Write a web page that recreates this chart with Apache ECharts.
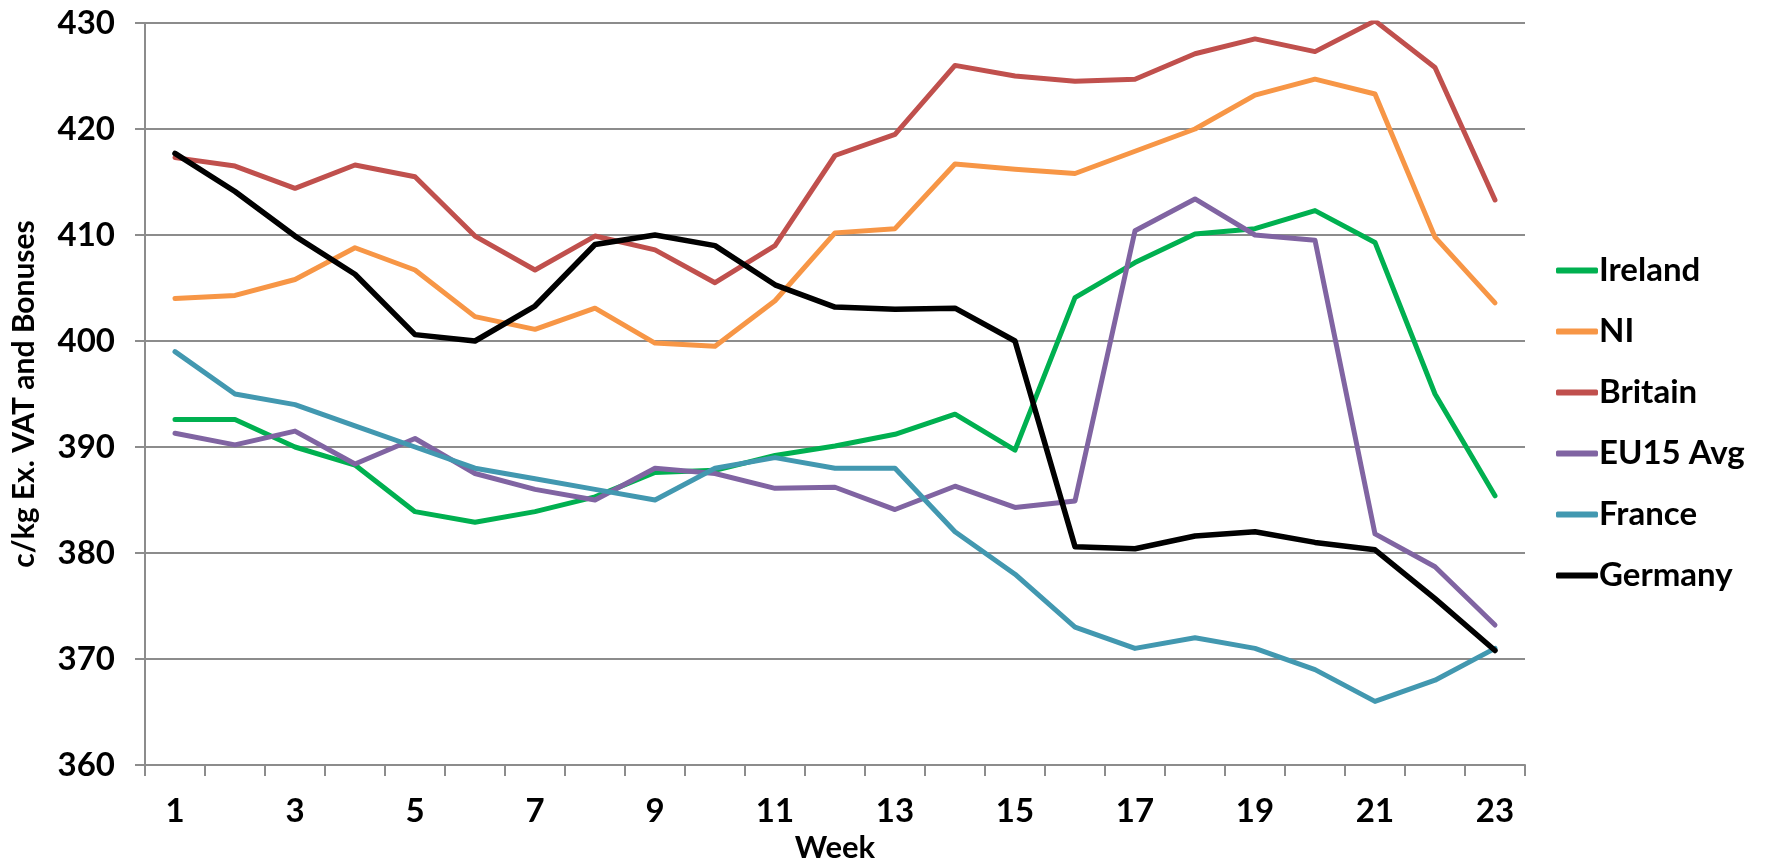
<!DOCTYPE html>
<html>
<head>
<meta charset="utf-8">
<script src="https://cdn.jsdelivr.net/npm/echarts@6/dist/echarts.min.js"></script>
<style>
  html, body { margin: 0; padding: 0; background: #fff; }
  #chart { width: 1775px; height: 858px; }
</style>
</head>
<body>
<div id="chart"></div>
<script>
// weeks on the x axis
var weeks = ['1', '2', '3', '4', '5', '6', '7', '8', '9', '10', '11', '12',
             '13', '14', '15', '16', '17', '18', '19', '20', '21', '22', '23'];

// c/kg values
var ireland = [392.6, 392.6, 390.0, 388.3, 383.9, 382.9, 383.9, 385.3, 387.6, 387.8, 389.2, 390.1,
               391.2, 393.1, 389.7, 404.1, 407.4, 410.1, 410.6, 412.3, 409.3, 395.0, 385.4];
var ni      = [404.0, 404.3, 405.8, 408.8, 406.7, 402.3, 401.1, 403.1, 399.8, 399.5, 403.8, 410.2,
               410.6, 416.7, 416.2, 415.8, 417.9, 420.0, 423.2, 424.7, 423.3, 409.8, 403.6];
var britain = [417.3, 416.5, 414.4, 416.6, 415.5, 409.9, 406.7, 409.9, 408.6, 405.5, 409.0, 417.5,
               419.5, 426.0, 425.0, 424.5, 424.7, 427.1, 428.5, 427.3, 430.2, 425.8, 413.3];
var eu15    = [391.3, 390.2, 391.5, 388.4, 390.8, 387.5, 386.0, 385.0, 388.0, 387.5, 386.1, 386.2,
               384.1, 386.3, 384.3, 384.9, 410.4, 413.4, 410.0, 409.5, 381.8, 378.7, 373.2];
var france  = [399.0, 395.0, 394.0, 392.0, 390.0, 388.0, 387.0, 386.0, 385.0, 388.0, 389.0, 388.0,
               388.0, 382.0, 378.0, 373.0, 371.0, 372.0, 371.0, 369.0, 366.0, 368.0, 371.0];
var germany = [417.7, 414.1, 409.9, 406.3, 400.6, 400.0, 403.3, 409.1, 410.0, 409.0, 405.3, 403.2,
               403.0, 403.1, 400.0, 380.6, 380.4, 381.6, 382.0, 381.0, 380.3, 375.7, 370.8];

var FONT = 'Lato, "Open Sans", sans-serif';

function line(name, data, color, width) {
    return {
        name: name,
        type: 'line',
        data: data,
        symbol: 'none',
        color: color,
        lineStyle: { width: width, color: color, cap: 'round', join: 'round' },
        emphasis: { disabled: true }
    };
}

var myChart = echarts.init(document.getElementById('chart'));
myChart.setOption({
    animation: false,
    backgroundColor: '#ffffff',
    textStyle: { fontFamily: FONT },
    grid: { left: 145, right: 250, top: 23, bottom: 93, containLabel: false, outerBoundsMode: 'none' },
    legend: {
        orient: 'vertical',
        left: 1551,
        top: 249,
        itemWidth: 42,
        itemHeight: 6,
        itemGap: 28,
        icon: 'roundRect',
        textStyle: { fontFamily: FONT, fontWeight: 'bold', fontSize: 33, lineHeight: 33, color: '#000', padding: [0, 0, 0, -4] },
        data: ['Ireland', 'NI', 'Britain', 'EU15 Avg', 'France', 'Germany']
    },
    xAxis: {
        type: 'category',
        data: weeks,
        boundaryGap: true,
        name: 'Week',
        nameLocation: 'middle',
        nameGap: 54,
        nameTextStyle: { fontFamily: FONT, fontWeight: 'bold', fontSize: 31, color: '#000' },
        axisLine: { lineStyle: { color: '#8c8c8c', width: 2 } },
        axisTick: { show: true, interval: 0, length: 11, lineStyle: { color: '#8c8c8c', width: 2 } },
        axisLabel: { interval: 1, margin: 30, fontFamily: FONT, fontWeight: 'bold', fontSize: 33, color: '#000' },
        splitLine: { show: false }
    },
    yAxis: {
        type: 'value',
        min: 360,
        max: 430,
        interval: 10,
        name: 'c/kg Ex. VAT and Bonuses',
        nameLocation: 'middle',
        nameGap: 106,
        nameTextStyle: { fontFamily: FONT, fontWeight: 'bold', fontSize: 30, color: '#000' },
        axisLine: { show: true, lineStyle: { color: '#8c8c8c', width: 2 } },
        axisTick: { show: true, length: 10, lineStyle: { color: '#8c8c8c', width: 2 } },
        axisLabel: { margin: 30, fontFamily: FONT, fontWeight: 'bold', fontSize: 33, color: '#000' },
        splitLine: { show: true, lineStyle: { color: '#8c8c8c', width: 2 } }
    },
    series: [
        line('Ireland', ireland, '#00B050', 5),
        line('NI', ni, '#F79646', 5),
        line('Britain', britain, '#C0504D', 5),
        line('EU15 Avg', eu15, '#8064A2', 5),
        line('France', france, '#4298B0', 5),
        line('Germany', germany, '#000000', 5.5)
    ]
});
</script>
</body>
</html>
